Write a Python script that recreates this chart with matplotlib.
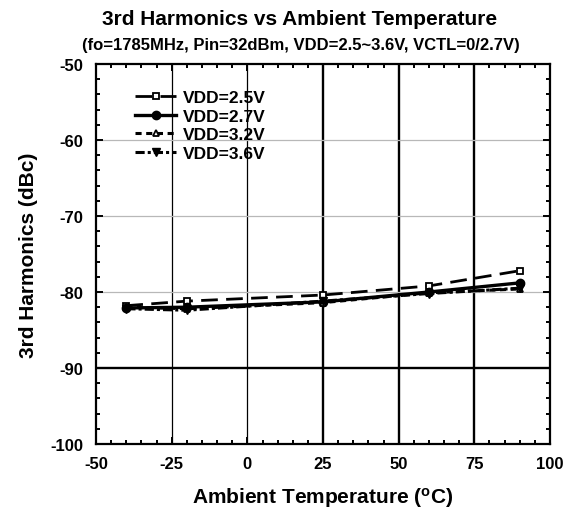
import matplotlib.pyplot as plt
from matplotlib.ticker import MultipleLocator

plt.rcParams['font.family'] = ['Liberation Sans', 'DejaVu Sans']
plt.rcParams['font.weight'] = 'bold'
plt.rcParams['axes.unicode_minus'] = False

temps = [-40, -20, 25, 60, 90]
vdd_25 = [-81.8, -81.2, -80.4, -79.2, -77.2]
vdd_27 = [-82.1, -82.0, -81.3, -80.0, -78.8]
vdd_32 = [-82.0, -82.2, -81.4, -80.1, -79.6]
vdd_36 = [-82.2, -82.4, -81.2, -80.2, -79.5]
labels = ["VDD=2.5V", "VDD=2.7V", "VDD=3.2V", "VDD=3.6V"]

fig = plt.figure(figsize=(5.72, 5.10), dpi=100)
ax = fig.add_axes([0.168, 0.1275, 0.7935, 0.745])

# grid lines drawn by hand to get the mixed weights
for x in [-25, 0]:
    ax.axvline(x, color="black", lw=0.9, zorder=1)
for x in [25, 50, 75]:
    ax.axvline(x, color="black", lw=1.7, zorder=1)
for y in [-60, -70, -80]:
    ax.axhline(y, color="#b8b8b8", lw=0.9, zorder=1)
ax.axhline(-90, color="black", lw=1.7, zorder=1)

ax.plot(temps, vdd_25, color="black", lw=2.0, dashes=(6, 3), marker="s",
        mfc="white", ms=5, mew=1.3, label=labels[0], zorder=3)
ax.plot(temps, vdd_27, color="black", lw=2.4, marker="o", ms=6,
        label=labels[1], zorder=3)
ax.plot(temps, vdd_32, color="black", lw=2.2, dashes=(2, 1.5), marker="^",
        mfc="white", ms=5, mew=1.3, label=labels[2], zorder=3)
ax.plot(temps, vdd_36, color="black", lw=2.2, dashes=(3, 1, 1, 1), marker="v",
        ms=6, label=labels[3], zorder=3)

ax.set_xlim(-50, 100)
ax.set_ylim(-100, -50)
ax.xaxis.set_major_locator(MultipleLocator(25))
ax.xaxis.set_minor_locator(MultipleLocator(5))
ax.yaxis.set_major_locator(MultipleLocator(10))
ax.yaxis.set_minor_locator(MultipleLocator(2))
ax.tick_params(which="both", direction="in", top=True, right=True, labelsize=12, width=1.4)
ax.tick_params(axis="x", which="major", length=5, pad=9)
ax.tick_params(axis="y", which="major", length=5, pad=9)
ax.tick_params(which="minor", length=3)
for s in ax.spines.values():
    s.set_linewidth(1.6)

ax.set_xlabel("Ambient Temperature ($\\mathregular{^{o}}$C)", fontsize=15, fontweight="bold", labelpad=10)
ax.set_ylabel("3rd Harmonics (dBc)", fontsize=15, fontweight="bold", labelpad=9)

fig.text(0.524, 0.961, "3rd Harmonics vs Ambient Temperature", ha="center", va="center",
         fontsize=15, fontweight="bold")
fig.text(0.526, 0.91, "(fo=1785MHz, Pin=32dBm, VDD=2.5~3.6V, VCTL=0/2.7V)", ha="center",
         va="center", fontsize=12, fontweight="bold")

leg = ax.legend(loc="upper left", bbox_to_anchor=(0.07, 0.95), frameon=False, fontsize=12.5,
                handlelength=2.4, handletextpad=0.35, labelspacing=0.2, borderaxespad=0)

fig.savefig("out.png", dpi=100)
